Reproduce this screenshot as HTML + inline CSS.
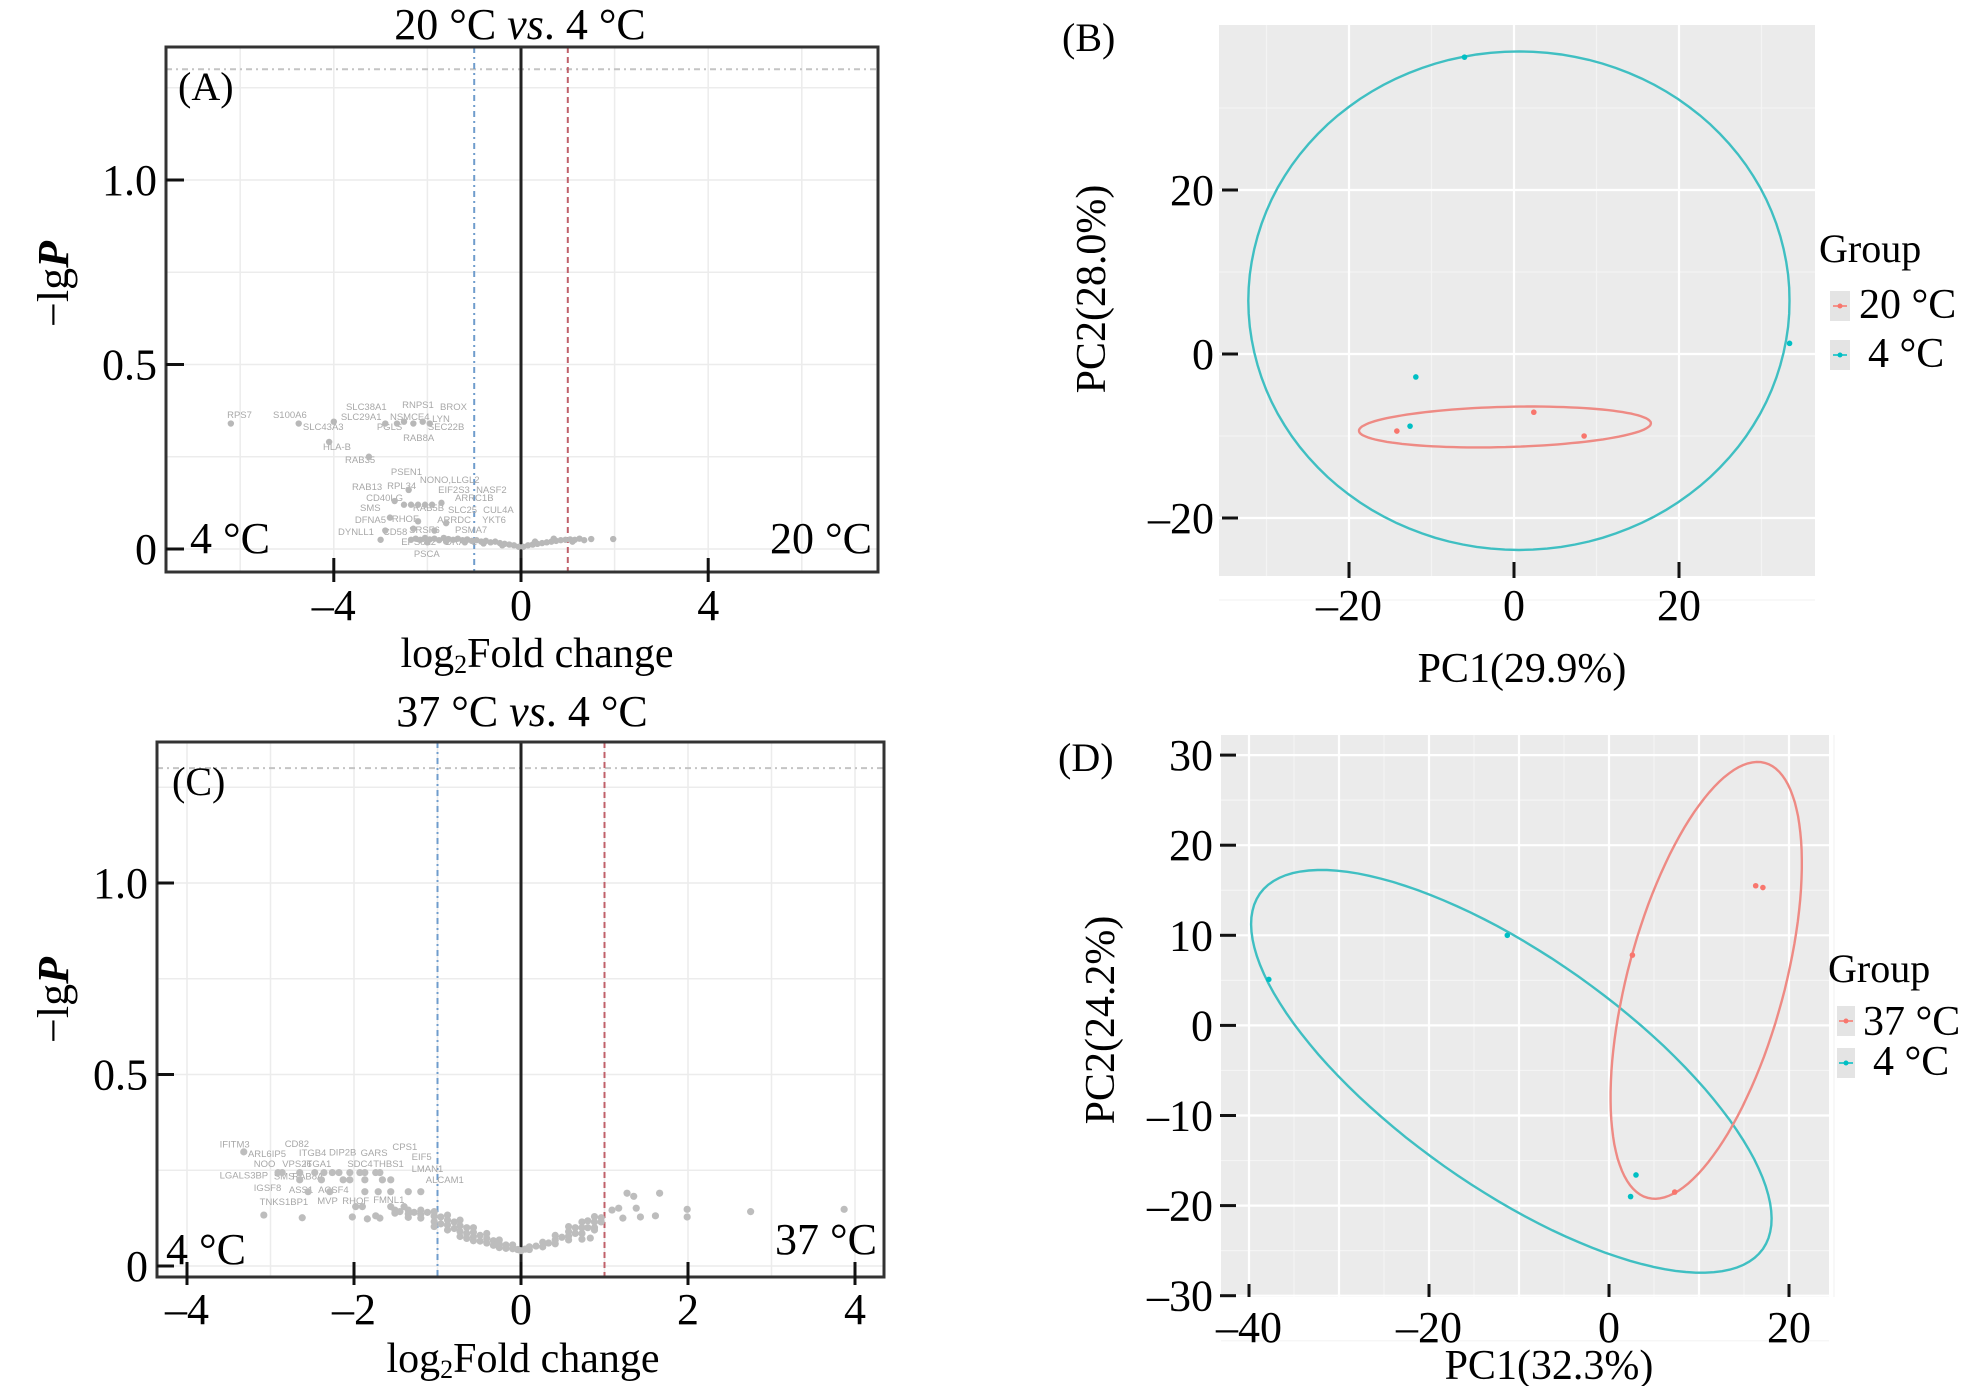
<!DOCTYPE html>
<html><head><meta charset="utf-8"><style>
html,body{margin:0;padding:0;background:#fff}
svg{display:block;font-family:"Liberation Serif",serif}
.gl{font-family:"Liberation Sans",sans-serif;font-size:9.5px;fill:#a8a8a8}
</style></head><body>
<svg id="fig" width="1984" height="1386" viewBox="0 0 1984 1386" xmlns="http://www.w3.org/2000/svg">
<rect width="1984" height="1386" fill="#fff"/>
<!-- Panel A -->
<g>
<rect x="166" y="47" width="712" height="525" fill="#fff"/>
<g id="gridA"></g>
<g id="marksA"></g>
<rect x="166" y="47" width="712" height="525" fill="none" stroke="#333" stroke-width="3"/>
<g id="axesA"></g>
<text x="520" y="39" font-size="44" text-anchor="middle">20 °C <tspan font-style="italic">vs</tspan>. 4 °C</text>
<text x="178" y="100" font-size="40">(A)</text>
<text x="190" y="553" font-size="44">4 °C</text>
<text x="872" y="553" font-size="44" text-anchor="end">20 °C</text>
<text transform="translate(68,284) rotate(-90)" font-size="44" text-anchor="middle">−lg<tspan font-style="italic" font-weight="bold">P</tspan></text>
<text x="537" y="667" font-size="42" text-anchor="middle">log<tspan font-size="26" dy="6">2</tspan><tspan dy="-6">Fold change</tspan></text>
</g>
<!-- Panel C -->
<g>
<g id="gridC"></g>
<g id="marksC"></g>
<rect x="157" y="742" width="727" height="535" fill="none" stroke="#333" stroke-width="3"/>
<g id="axesC"></g>
<text x="522" y="726" font-size="44" text-anchor="middle">37 °C <tspan font-style="italic">vs</tspan>. 4 °C</text>
<text x="172" y="795" font-size="40">(C)</text>
<text x="166" y="1264" font-size="44">4 °C</text>
<text x="877" y="1254" font-size="44" text-anchor="end">37 °C</text>
<text transform="translate(68,1000) rotate(-90)" font-size="44" text-anchor="middle">−lg<tspan font-style="italic" font-weight="bold">P</tspan></text>
<text x="523" y="1372" font-size="42" text-anchor="middle">log<tspan font-size="26" dy="6">2</tspan><tspan dy="-6">Fold change</tspan></text>
</g>
<!-- Panel B -->
<g>
<rect x="1219" y="25" width="596" height="551" fill="#ebebeb"/>
<g id="gridB"></g>
<g id="marksB"></g>
<g id="axesB"></g>
<text x="1062" y="51" font-size="40">(B)</text>
<text x="1522" y="682" font-size="42" text-anchor="middle">PC1(29.9%)</text>
<text transform="translate(1105,289) rotate(-90)" font-size="42" text-anchor="middle">PC2(28.0%)</text>
<g transform="translate(-10,0)">
<text x="1829" y="262" font-size="40">Group</text>
<rect x="1840" y="291" width="20" height="30" fill="#e4e4e4"/>
<line x1="1843" y1="306" x2="1857" y2="306" stroke="#F8766D" stroke-width="1.5"/>
<circle cx="1850" cy="306" r="2.5" fill="#F8766D"/>
<text x="1869" y="318" font-size="42">20 °C</text>
<rect x="1840" y="340" width="20" height="30" fill="#e4e4e4"/>
<line x1="1843" y1="355" x2="1857" y2="355" stroke="#00BFC4" stroke-width="1.5"/>
<circle cx="1850" cy="355" r="2.5" fill="#00BFC4"/>
<text x="1878" y="367" font-size="42">4 °C</text>
</g>
</g>
<!-- Panel D -->
<g>
<rect x="1221" y="735" width="608" height="562" fill="#ebebeb"/>
<g id="gridD"></g>
<g id="marksD"></g>
<g id="axesD"></g>
<text x="1058" y="771" font-size="40">(D)</text>
<text x="1549" y="1379" font-size="42" text-anchor="middle">PC1(32.3%)</text>
<text transform="translate(1114,1020) rotate(-90)" font-size="42" text-anchor="middle">PC2(24.2%)</text>
<g transform="translate(-12,0)">
<text x="1840" y="982" font-size="40">Group</text>
<rect x="1849" y="1006" width="18" height="30" fill="#e4e4e4"/>
<line x1="1851" y1="1021" x2="1865" y2="1021" stroke="#F8766D" stroke-width="1.5"/>
<circle cx="1858" cy="1021" r="2.5" fill="#F8766D"/>
<text x="1875" y="1035" font-size="42">37 °C</text>
<rect x="1849" y="1048" width="18" height="30" fill="#e4e4e4"/>
<line x1="1851" y1="1063" x2="1865" y2="1063" stroke="#00BFC4" stroke-width="1.5"/>
<circle cx="1858" cy="1063" r="2.5" fill="#00BFC4"/>
<text x="1885" y="1075" font-size="42">4 °C</text>
</g>
</g>
</svg>
<script>
// ---------- data ----------
const aTicksX = [-4, 0, 4];
const aTicksY = [0, 0.5, 1.0];
const aTickLabelsY = ["0", "0.5", "1.0"];
const aTickLabelsX = ["–4", "0", "4"];
const aPoints = [[-6.2,0.34],[-4.75,0.34],[-4.0,0.345],[-4.1,0.29],[-3.25,0.25],[-2.9,0.34],[-2.65,0.34],[-2.5,0.345],[-2.3,0.34],[-2.1,0.345],[-1.95,0.34],
 [-2.4,0.16],[-2.7,0.13],[-2.5,0.12],[-2.35,0.12],[-2.2,0.12],[-2.05,0.12],[-1.9,0.12],[-1.7,0.125],[-2.8,0.085],[-2.2,0.075],[-1.6,0.07],[-2.9,0.05],[-2.3,0.055],[-1.85,0.05],[-3.0,0.025],
 [-2.35,0.025],[-2.25,0.028],[-2.15,0.025],[-2.05,0.03],[-1.95,0.026],[-1.85,0.028],[-1.75,0.024],[-1.65,0.03],[-1.55,0.027],[-1.45,0.025],[-1.35,0.028],[-1.25,0.024],[-1.15,0.026],[-1.05,0.022],[-0.95,0.024],[-0.85,0.02],[-0.75,0.022],[-0.65,0.018],[-0.55,0.02],[-0.45,0.016],[-0.35,0.014],[-0.25,0.012],[-0.15,0.01],[-0.05,0.006],[0.05,0.006],[0.15,0.01],[0.25,0.012],[0.35,0.014],[0.45,0.016],[0.55,0.018],[0.65,0.02],[0.75,0.022],[0.85,0.024],[0.95,0.025],[1.05,0.026],[1.15,0.025],[1.25,0.028],[1.35,0.024],[1.5,0.027],[1.97,0.027],
 [-2.0,0.018],[-1.6,0.02],[-1.2,0.018],[-0.8,0.015],[-0.4,0.01],[0.3,0.02],[0.7,0.028],[1.1,0.02]];
const aGeneNames = ["RPS7","S100A6","SLC38A1","RNPS1","BROX","SLC29A1","NSMCE4","LYN","SLC43A3","PGLS","SEC22B","RAB8A","HLA-B","RAB35","PSEN1","NONO,LLGL2","RAB13","RPL34","EIF2S3","NASF2","CD40LG","ARRC1B","SMS","RAB5B","SLC25","CUL4A","DFNA5","RHOF","ARRDC","YKT6","DYNLL1","CD58","SRSF6","PSMA7","EPS8L2","DRAP1","PSCA"];
const aGeneX = [-6.28,-5.30,-3.74,-2.54,-1.73,-3.85,-2.80,-1.90,-4.66,-3.08,-1.99,-2.52,-4.23,-3.76,-2.78,-2.16,-3.61,-2.86,-1.77,-0.96,-3.31,-1.41,-3.44,-2.31,-1.56,-0.81,-3.55,-2.76,-1.79,-0.83,-3.91,-2.95,-2.39,-1.41,-2.56,-1.62,-2.29];
const aGeneY = [0.355,0.355,0.377,0.382,0.377,0.35,0.35,0.344,0.322,0.322,0.322,0.293,0.268,0.233,0.2,0.179,0.16,0.163,0.152,0.152,0.13,0.13,0.103,0.103,0.098,0.098,0.07,0.073,0.07,0.07,0.038,0.038,0.043,0.043,0.011,0.011,-0.022];

const cTicksX = [-4, -2, 0, 2, 4];
const cTickLabelsX = ["–4", "–2", "0", "2", "4"];
const cTicksY = [0, 0.5, 1.0];
const cTickLabelsY = ["0", "0.5", "1.0"];
const cPoints = [[-3.32,0.298],
 [-2.91,0.244],[-2.86,0.244],[-2.65,0.244],[-2.47,0.244],[-2.36,0.244],[-2.26,0.244],[-2.18,0.244],[-2.05,0.244],[-1.93,0.244],[-1.87,0.244],[-1.74,0.244],[-1.69,0.244],
 [-2.65,0.225],[-2.39,0.225],[-2.13,0.225],[-2.05,0.225],[-1.87,0.225],[-1.66,0.225],[-1.56,0.225],
 [-2.55,0.194],[-2.29,0.194],[-1.87,0.194],[-1.71,0.194],[-1.56,0.194],[-1.35,0.194],[-1.20,0.194],
 [-1.98,0.155],[-1.90,0.155],[-1.56,0.155],[-1.40,0.155],
 [-3.08,0.133],[-2.62,0.126],[-2.02,0.128],[-1.84,0.123],[-1.74,0.131],[-1.69,0.125],
 [-1.51,0.146],[-1.51,0.138],[-1.45,0.142],[-1.35,0.146],[-1.35,0.136],[-1.35,0.127],[-1.28,0.14],[-1.20,0.146],[-1.20,0.135],[-1.20,0.125],[-1.12,0.14],[-1.04,0.142],[-1.04,0.13],[-1.04,0.116],[-1.04,0.103],[-0.96,0.128],[-0.96,0.11],
 [-0.88,0.133],[-0.88,0.12],[-0.88,0.107],[-0.88,0.094],[-0.80,0.115],[-0.80,0.098],[-0.73,0.12],[-0.73,0.105],[-0.73,0.09],[-0.73,0.077],[-0.65,0.1],[-0.65,0.085],[-0.65,0.072],
 [-0.57,0.1],[-0.57,0.088],[-0.57,0.076],[-0.57,0.066],[-0.49,0.08],[-0.49,0.065],[-0.41,0.085],[-0.41,0.072],[-0.41,0.06],[-0.33,0.066],[-0.33,0.054],[-0.26,0.068],[-0.26,0.057],[-0.26,0.048],[-0.18,0.055],[-0.18,0.046],[-0.10,0.055],[-0.10,0.045],[-0.04,0.043],[0.0,0.04],
 [0.05,0.044],[0.10,0.05],[0.10,0.043],[0.18,0.052],[0.26,0.062],[0.26,0.05],[0.33,0.06],[0.41,0.08],[0.41,0.068],[0.41,0.058],[0.49,0.075],[0.57,0.103],[0.57,0.09],[0.57,0.078],[0.57,0.068],[0.65,0.1],[0.65,0.085],
 [0.73,0.115],[0.73,0.1],[0.73,0.085],[0.73,0.07],[0.80,0.118],[0.80,0.1],[0.83,0.073],[0.88,0.129],[0.88,0.115],[0.88,0.1],[0.88,0.094],[0.96,0.126],[0.96,0.115],
 [1.09,0.146],[1.17,0.151],[1.27,0.19],[1.35,0.182],[1.38,0.151],[1.43,0.128],[1.61,0.131],[1.66,0.19],[1.99,0.148],[1.99,0.128],[2.75,0.142],[3.87,0.148],[1.22,0.125]];
const cGeneNames = ["IFITM3","CD82","ARL6IP5","ITGB4","DIP2B","GARS","CPS1","EIF5","NOO","VPS26","ITGA1","SDC4","THBS1","LMAN1","LGALS3BP","SMS","RAB8A","ALCAM1","IGSF8","ASS1","ACSF4","TNKS1BP1","MVP","RHOF","FMNL1"];
const cGeneX = [-3.61,-2.83,-3.27,-2.66,-2.30,-1.92,-1.54,-1.31,-3.20,-2.86,-2.60,-2.08,-1.77,-1.31,-3.61,-2.96,-2.74,-1.14,-3.20,-2.78,-2.43,-3.13,-2.44,-2.14,-1.77];
const cGeneY = [0.31,0.311,0.285,0.287,0.288,0.287,0.303,0.277,0.259,0.259,0.259,0.259,0.259,0.246,0.229,0.226,0.226,0.217,0.196,0.191,0.191,0.159,0.162,0.162,0.164];

const bTicks = [-20, 0, 20];
const bTickLabels = ["–20", "0", "20"];
const bRedX = [-14.2, 2.4, 8.5];
const bRedY = [-9.4, -7.1, -10.0];
const bBlueX = [-6.0, 33.4, -11.9, -12.6];
const bBlueY = [36.2, 1.3, -2.8, -8.8];
const bRedEllipse = [-1.1, -8.9, 17.7, 2.45, -1.5];   // cx, cy, a, b, angle
const bBlueEllipse = [0.6, 6.5, 32.8, 30.4, 0];

const dTicksX = [-40, -20, 0, 20];
const dTickLabelsX = ["–40", "–20", "0", "20"];
const dTicksY = [-30, -20, -10, 0, 10, 20, 30];
const dTickLabelsY = ["–30", "–20", "–10", "0", "10", "20", "30"];
const dRedX = [2.6, 16.3, 17.1, 7.3];
const dRedY = [7.8, 15.5, 15.3, -18.5];
const dBlueX = [-37.8, -11.3, 3.0, 2.4];
const dBlueY = [5.1, 10.0, -16.6, -19.0];
const dRedEllipse = [10.8, 5.0, 25.0, 8.7, -74.9];
const dBlueEllipse = [-10.85, -5.1, 34.2, 12.9, 35.2];

// ---------- scales ----------
const xA = v => 521 + v * 46.8, yA = v => 549 - v * 369;
const xC = v => 521 + v * 83.5, yC = v => 1266 - v * 383;
const xB = v => 1514 + v * 8.25, yB = v => 354 - v * 8.2;
const xD = v => 1609 + v * 9.0, yD = v => 1025.4 - v * 9.01;

const NS = "http://www.w3.org/2000/svg";
function mk(parent, tag, attrs) {
  const el = document.createElementNS(NS, tag);
  for (const k in attrs) el.setAttribute(k, attrs[k]);
  document.getElementById(parent).appendChild(el);
  return el;
}

// ---------- volcano panels ----------
function volcano(id, xs, ys, x0, x1, y0, y1, gx, gy, thr) {
  for (const g of gx) {
    const el = mk("grid" + id, "line", {x1: xs(g), x2: xs(g), y1: y0, y2: y1, stroke: "#ececec", "stroke-width": 1.5});
    
    
  }
  for (const g of gy) {
    const el = mk("grid" + id, "line", {x1: x0, x2: x1, y1: ys(g), y2: ys(g), stroke: "#ececec", "stroke-width": 1.5});
    
    
  }
  let el = mk("grid" + id, "line", {x1: x0, x2: x1, y1: ys(thr), y2: ys(thr), stroke: "#c4c4c4", "stroke-width": 2, "stroke-dasharray": "6 4 2 4"});
  
  
  el = mk("grid" + id, "line", {x1: xs(-1), x2: xs(-1), y1: y0, y2: y1, stroke: "#6f9ccc", "stroke-width": 2, "stroke-dasharray": "6 4 2 4"});
  
  
  el = mk("grid" + id, "line", {x1: xs(1), x2: xs(1), y1: y0, y2: y1, stroke: "#c0606a", "stroke-width": 2, "stroke-dasharray": "6 4"});
  
  
  el = mk("grid" + id, "line", {x1: xs(0), x2: xs(0), y1: y0, y2: y1, stroke: "#222", "stroke-width": 3});
  
  
}
volcano("A", xA, yA, 166, 878, 47, 572, [-6,-4,-2,0,2,4,6], [0,0.25,0.5,0.75,1.0,1.25], 1.30);
volcano("C", xC, yC, 157, 884, 742, 1277, [-4,-3,-2,-1,0,1,2,3,4], [0,0.25,0.5,0.75,1.0,1.25], 1.30);

for (let i = 0; i < aGeneNames.length; i++) {
  const t = mk("marksA", "text", {x: xA(aGeneX[i]), y: yA(aGeneY[i]), class: "gl"});
  t.textContent = aGeneNames[i];
  
  
}
for (const p of aPoints) {
  const c = mk("marksA", "circle", {cx: xA(p[0]), cy: yA(p[1]), r: 3.2, fill: "#b8b8b8"});
  
  
}
for (let i = 0; i < cGeneNames.length; i++) {
  const t = mk("marksC", "text", {x: xC(cGeneX[i]), y: yC(cGeneY[i]), class: "gl"});
  t.textContent = cGeneNames[i];
  
  
}
for (const p of cPoints) {
  const c = mk("marksC", "circle", {cx: xC(p[0]), cy: yC(p[1]), r: 3.6, fill: "#bdbdbd"});
  
  
}

function axisTicks(id, xs, ys, tx, txl, ty, tyl, yTickX0, yTickX1, yLabX, xTickY0, xTickY1, xLabY) {
  for (let i = 0; i < tx.length; i++) {
    const l = mk("axes" + id, "line", {x1: xs(tx[i]), x2: xs(tx[i]), y1: xTickY0, y2: xTickY1, stroke: "#111", "stroke-width": 3});
    
    
    const t = mk("axes" + id, "text", {x: xs(tx[i]), y: xLabY, "font-size": 44, "text-anchor": "middle"});
    t.textContent = txl[i];
    
    
  }
  for (let i = 0; i < ty.length; i++) {
    const l = mk("axes" + id, "line", {x1: yTickX0, x2: yTickX1, y1: ys(ty[i]), y2: ys(ty[i]), stroke: "#111", "stroke-width": 3});
    
    
    const t = mk("axes" + id, "text", {x: yLabX, y: ys(ty[i]) + 15, "font-size": 44, "text-anchor": "end"});
    t.textContent = tyl[i];
    
    
  }
}
axisTicks("A", xA, yA, aTicksX, aTickLabelsX, aTicksY, aTickLabelsY, 166, 184, 157, 558, 582, 620);
axisTicks("C", xC, yC, cTicksX, cTickLabelsX, cTicksY, cTickLabelsY, 157, 174, 148, 1262, 1285, 1324);

// ---------- PCA panels ----------
function pcaGrid(id, xs, ys, x0, x1, y0, y1, major, minor) {
  for (const g of minor) {
    let el = mk("grid" + id, "line", {x1: xs(g), x2: xs(g), y1: y0, y2: y1, stroke: "#f4f4f4", "stroke-width": 1.2});
    
    
    el = mk("grid" + id, "line", {x1: x0, x2: x1, y1: ys(g), y2: ys(g), stroke: "#f4f4f4", "stroke-width": 1.2});
    
    
  }
  for (const g of major) {
    let el = mk("grid" + id, "line", {x1: xs(g), x2: xs(g), y1: y0, y2: y1, stroke: "#fff", "stroke-width": 2.2});
    
    
    el = mk("grid" + id, "line", {x1: x0, x2: x1, y1: ys(g), y2: ys(g), stroke: "#fff", "stroke-width": 2.2});
    
    
  }
}
pcaGrid("B", xB, yB, 1219, 1815, 25, 576, [-20, 0, 20], [-30, -10, 10, 30]);
pcaGrid("D", xD, yD, 1221, 1829, 735, 1297, [-40, -20, 0, 20, -30, -10, 10, 30], [-35, -25, -15, -5, 5, 15, 25]);

function ellipsePath(xs, ys, e) {
  const [cx, cy, a, b, ang] = e;
  const th = ang * Math.PI / 180;
  let d = "";
  for (let k = 0; k <= 120; k++) {
    const t = k / 120 * 2 * Math.PI;
    const dx = a * Math.cos(t) * Math.cos(th) - b * Math.sin(t) * Math.sin(th);
    const dy = a * Math.cos(t) * Math.sin(th) + b * Math.sin(t) * Math.cos(th);
    d += (k ? "L" : "M") + xs(cx + dx).toFixed(1) + "," + ys(cy - dy).toFixed(1);
  }
  return d + "Z";
}
let e;
e = mk("marksB", "path", {d: ellipsePath(xB, yB, bBlueEllipse), fill: "none", stroke: "#3fbfc2", "stroke-width": 2.4});


e = mk("marksB", "path", {d: ellipsePath(xB, yB, bRedEllipse), fill: "none", stroke: "#ee8a84", "stroke-width": 2.4});


e = mk("marksD", "path", {d: ellipsePath(xD, yD, dBlueEllipse), fill: "none", stroke: "#3fbfc2", "stroke-width": 2.4});


e = mk("marksD", "path", {d: ellipsePath(xD, yD, dRedEllipse), fill: "none", stroke: "#ee8a84", "stroke-width": 2.4});



for (let i = 0; i < bRedX.length; i++) {
  const c = mk("marksB", "circle", {cx: xB(bRedX[i]), cy: yB(bRedY[i]), r: 2.8, fill: "#F8766D"});
  
  
}
for (let i = 0; i < bBlueX.length; i++) {
  const c = mk("marksB", "circle", {cx: xB(bBlueX[i]), cy: yB(bBlueY[i]), r: 2.8, fill: "#00BFC4"});
  
  
}
for (let i = 0; i < dRedX.length; i++) {
  const c = mk("marksD", "circle", {cx: xD(dRedX[i]), cy: yD(dRedY[i]), r: 2.8, fill: "#F8766D"});
  
  
}
for (let i = 0; i < dBlueX.length; i++) {
  const c = mk("marksD", "circle", {cx: xD(dBlueX[i]), cy: yD(dBlueY[i]), r: 2.8, fill: "#00BFC4"});
  
  
}

axisTicks("B", xB, yB, bTicks, bTickLabels, bTicks, bTickLabels, 1222, 1238, 1214, 562, 578, 620);
axisTicks("D", xD, yD, dTicksX, dTickLabelsX, dTicksY, dTickLabelsY, 1220, 1236, 1213, 1284, 1297, 1342);
</script>
</body></html>
